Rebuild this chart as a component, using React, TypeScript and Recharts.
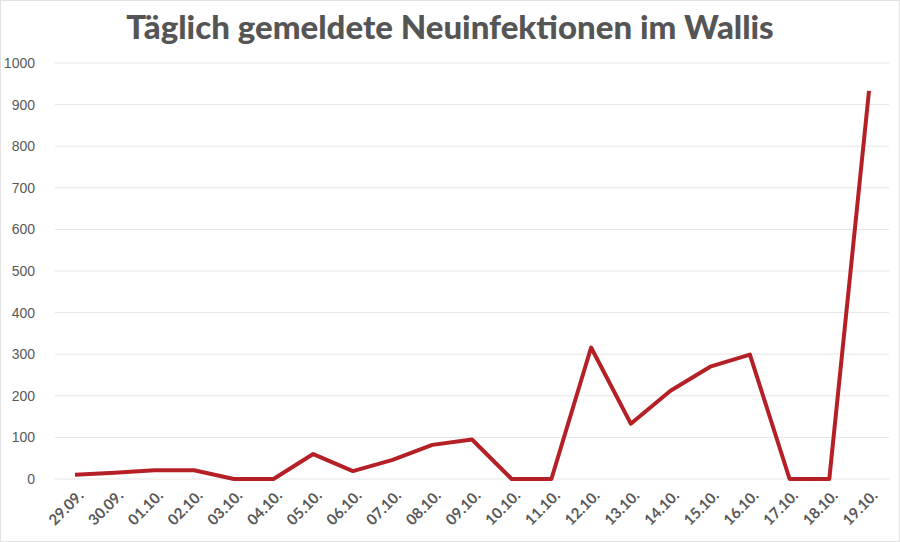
import { LineChart, Line, XAxis, YAxis, CartesianGrid } from 'recharts';

const dates = [
  '29.09.', '30.09.', '01.10.', '02.10.', '03.10.', '04.10.', '05.10.',
  '06.10.', '07.10.', '08.10.', '09.10.', '10.10.', '11.10.', '12.10.',
  '13.10.', '14.10.', '15.10.', '16.10.', '17.10.', '18.10.', '19.10.',
];
const newCases = [
  10, 15, 21, 21, 0, 0, 60, 19, 46, 82, 95, 0, 0, 316, 133, 212, 270, 299, 0, 0, 933,
];
const yTicks = [0, 100, 200, 300, 400, 500, 600, 700, 800, 900, 1000];

const data = dates.map((date, i) => ({ date, value: newCases[i] }));

function DateTick({ x, y, payload }: any) {
  return (
    <g transform={`translate(${x + 6},${y + 6})`}>
      <text
        transform="rotate(-45)"
        textAnchor="end"
        dy={5}
        fontFamily="Lato, 'Open Sans', sans-serif"
        fontWeight={700}
        fontSize={15}
        fill="#595959"
      >
        {payload.value}
      </text>
    </g>
  );
}

export default function App() {
  return (
    <div
      style={{
        position: 'relative',
        width: 900,
        height: 542,
        background: '#fff',
        boxSizing: 'border-box',
        border: '1px solid #e2e2e2',
      }}
    >
      <style>{'body{margin:0}'}</style>
      <div
        style={{
          position: 'absolute',
          top: 5,
          left: 0,
          width: 898,
          textAlign: 'center',
          fontFamily: 'Lato, sans-serif',
          fontWeight: 900,
          fontSize: 33,
          color: '#555555',
        }}
      >
        Täglich gemeldete Neuinfektionen im Wallis
      </div>
      <LineChart
        width={898}
        height={540}
        data={data}
        margin={{ top: 62, right: 10, left: 0, bottom: 0 }}
        style={{ position: 'absolute', top: 0, left: 0 }}
      >
        <CartesianGrid vertical={false} stroke="#e6e6e6" strokeWidth={1} />
        <XAxis
          dataKey="date"
          axisLine={false}
          tickLine={false}
          interval={0}
          height={62}
          padding={{ left: 20, right: 20 }}
          tick={<DateTick />}
        />
        <YAxis
          domain={[0, 1000]}
          ticks={yTicks}
          width={54}
          axisLine={false}
          tickLine={false}
          tickMargin={14}
          tick={{ fontFamily: "'Liberation Sans Narrow', 'Liberation Sans', sans-serif", fontSize: 14, fill: '#595959' }}
        />
        <Line
          type="linear"
          dataKey="value"
          stroke="#b52027"
          strokeWidth={4}
          dot={false}
          strokeLinejoin="round"
          isAnimationActive={false}
        />
      </LineChart>
    </div>
  );
}
